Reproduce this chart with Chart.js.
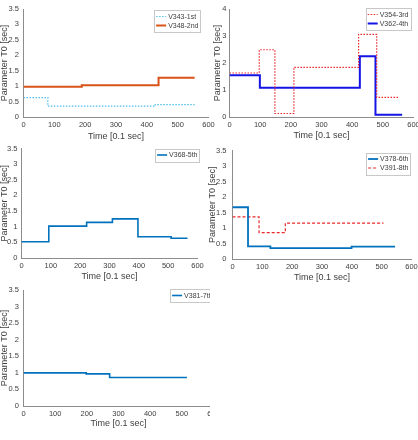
<!DOCTYPE html>
<html><head><meta charset="utf-8">
<script src="https://cdn.jsdelivr.net/npm/chart.js@4"></script>
<style>
html,body{margin:0;padding:0;background:#fff;overflow:hidden;width:418px;height:440px;}
.p{position:absolute;overflow:hidden;}
canvas{display:block;}
</style></head><body>
<div class="p" id="w1"><canvas id="c1"></canvas></div>
<div class="p" id="w2"><canvas id="c2"></canvas></div>
<div class="p" id="w3"><canvas id="c3"></canvas></div>
<div class="p" id="w4"><canvas id="c4"></canvas></div>
<div class="p" id="w5"><canvas id="c5"></canvas></div>
<script>
// ---- data (time in 0.1 sec, T0 in sec); step series: value holds until next x ----
const xTicks = [0, 100, 200, 300, 400, 500, 600];
const yTicksA = [0, 0.5, 1, 1.5, 2, 2.5, 3, 3.5];
const yTicksB = [0, 1, 2, 3, 4];

const v343X = [0, 79, 427, 555];
const v343Y = [0.63, 0.35, 0.40, 0.40];
const v348X = [0, 189, 438, 555];
const v348Y = [0.98, 1.03, 1.27, 1.27];

const v354X = [0, 97, 148, 210, 421, 480, 553];
const v354Y = [1.63, 2.49, 0.13, 1.84, 3.06, 0.73, 0.73];
const v362X = [0, 99, 425, 476, 563];
const v362Y = [1.55, 1.08, 2.25, 0.08, 0.08];

const v368X = [0, 93, 222, 310, 397, 510, 566];
const v368Y = [0.52, 1.02, 1.14, 1.25, 0.68, 0.63, 0.63];

const v378X = [0, 52, 127, 399, 545];
const v378Y = [1.67, 0.41, 0.35, 0.40, 0.40];
const v391X = [0, 89, 177, 506];
const v391Y = [1.36, 0.85, 1.16, 1.16];

const v381X = [0, 198, 272, 516];
const v381Y = [1.00, 0.97, 0.86, 0.86];

// ---- styling / layout ----
const FONT = "'Liberation Sans', Arial, Helvetica, sans-serif";
const TXT = '#404040';
const pts = (xs, ys) => xs.map((x, i) => ({x: x, y: ys[i]}));

const insideLegend = {
  id: 'insideLegend',
  afterDraw(chart) {
    const o = chart.options.plugins.insideLegend;
    if (!o) return;
    const ctx = chart.ctx, ca = chart.chartArea;
    const ds = chart.data.datasets;
    ctx.save();
    ctx.font = '7px ' + FONT;
    const sample = 10, gap = 2, pad = 2, rowH = 9;
    let tw = 0;
    ds.forEach(d => { tw = Math.max(tw, ctx.measureText(d.label).width); });
    const w = pad + sample + gap + tw + pad;
    const h = ds.length * rowH + 2 * pad;
    const right = ca.right + o.dx, top = ca.top + o.dy;
    const left = right - w;
    ctx.fillStyle = '#fff';
    ctx.fillRect(left, top, w, h);
    ctx.strokeStyle = '#c8c8c8';
    ctx.lineWidth = 1;
    ctx.strokeRect(Math.round(left) + 0.5, Math.round(top) + 0.5, Math.round(w), Math.round(h));
    ds.forEach((d, i) => {
      const cy = top + pad + rowH * i + rowH / 2;
      ctx.strokeStyle = d.borderColor;
      ctx.lineWidth = d.borderWidth;
      ctx.setLineDash(d.borderDash || []);
      ctx.beginPath();
      ctx.moveTo(left + pad, cy);
      ctx.lineTo(left + pad + sample, cy);
      ctx.stroke();
      ctx.setLineDash([]);
      ctx.fillStyle = TXT;
      ctx.textBaseline = 'middle';
      ctx.textAlign = 'left';
      ctx.fillText(d.label, left + pad + sample + gap, cy + 0.5);
    });
    ctx.restore();
  }
};

function series(label, xs, ys, color, width, dash) {
  return {label: label, data: pts(xs, ys), borderColor: color, borderWidth: width,
          borderDash: dash || [], stepped: 'before', pointRadius: 0, fill: false,
          tension: 0, borderCapStyle: 'butt'};
}

function makeChart(id, box, area, yTicks, datasets, leg) {
  const wrap = document.getElementById('w' + id);
  wrap.style.left = box.x + 'px';
  wrap.style.top = box.y + 'px';
  wrap.style.width = box.clip + 'px';
  wrap.style.height = box.h + 'px';
  const cv = document.getElementById('c' + id);
  cv.width = box.cw; cv.height = box.h;
  cv.style.width = box.cw + 'px'; cv.style.height = box.h + 'px';
  return new Chart(cv, {
    type: 'line',
    data: {datasets: datasets},
    plugins: [insideLegend],
    options: {
      responsive: false, animation: false, devicePixelRatio: 1,
      layout: {padding: {left: 0, top: area.t - box.y, right: box.x + box.cw - area.r, bottom: 0}},
      plugins: {legend: {display: false}, tooltip: {enabled: false}, insideLegend: leg},
      scales: {
        x: {
          type: 'linear', position: 'bottom',
          min: xTicks[0], max: xTicks[xTicks.length - 1],
          afterBuildTicks: s => { s.ticks = xTicks.map(v => ({value: v})); },
          afterFit: s => { s.height = box.y + box.h - area.b; },
          grid: {display: false, drawTicks: false},
          border: {display: true, color: '#8c8c8c', width: 1},
          ticks: {color: TXT, font: {family: FONT, size: 7.5}, padding: 3, maxRotation: 0, autoSkip: false,
                  callback: v => String(v)},
          title: {display: true, text: 'Time [0.1 sec]', color: TXT, font: {family: FONT, size: 9, lineHeight: 1}, padding: {top: 0, bottom: 0}}
        },
        y: {
          type: 'linear', position: 'left',
          min: yTicks[0], max: yTicks[yTicks.length - 1],
          afterBuildTicks: s => { s.ticks = yTicks.map(v => ({value: v})); },
          afterFit: s => { s.width = area.l - box.x; },
          grid: {display: false, drawTicks: false},
          border: {display: true, color: '#8c8c8c', width: 1},
          ticks: {color: TXT, font: {family: FONT, size: 7.5}, padding: area.tp, autoSkip: false,
                  callback: v => String(v)},
          title: {display: true, text: 'Parameter T0 [sec]', color: TXT, font: {family: FONT, size: 9, lineHeight: 1}, padding: {top: 0, bottom: 0}}
        }
      }
    }
  });
}

const C_LB = '#4DBEEE', C_OR = '#D95319', C_RD = '#E8282B', C_BL = '#1414E6', C_MB = '#0072BD';

makeChart(1, {x: -0.5, y: 0, cw: 225, clip: 225, h: 141}, {l: 23, t: 7, r: 208, b: 117, tp: 4.5}, yTicksA, [
  series('V343-1st', v343X, v343Y, C_LB, 1.2, [1.5, 1.5]),
  series('V348-2nd', v348X, v348Y, C_OR, 2)
], {dx: -8, dy: 1});

makeChart(2, {x: 212.5, y: 0, cw: 215, clip: 215, h: 140}, {l: 229, t: 9, r: 413, b: 117, tp: 3}, yTicksB, [
  series('V354-3rd', v354X, v354Y, C_RD, 1.2, [1.5, 1.5]),
  series('V362-4th', v362X, v362Y, C_BL, 2)
], {dx: -3, dy: -1});

makeChart(3, {x: -0.5, y: 140, cw: 212, clip: 212, h: 141}, {l: 21, t: 147, r: 197, b: 258, tp: 4}, yTicksA, [
  series('V368-5th', v368X, v368Y, C_MB, 1.6)
], {dx: 2, dy: 0});

makeChart(4, {x: 207.5, y: 140, cw: 220, clip: 220, h: 142}, {l: 232, t: 147, r: 411, b: 259, tp: 6}, yTicksA, [
  series('V378-6th', v378X, v378Y, C_MB, 1.8),
  series('V391-8th', v391X, v391Y, C_RD, 1.2, [3, 2])
], {dx: -1, dy: 2});

makeChart(5, {x: -0.5, y: 281, cw: 228, clip: 210, h: 147}, {l: 23, t: 288, r: 213, b: 406, tp: 4.5}, yTicksA, [
  series('V381-7th', v381X, v381Y, C_MB, 1.6)
], {dx: 1, dy: -1});
</script>
</body></html>
